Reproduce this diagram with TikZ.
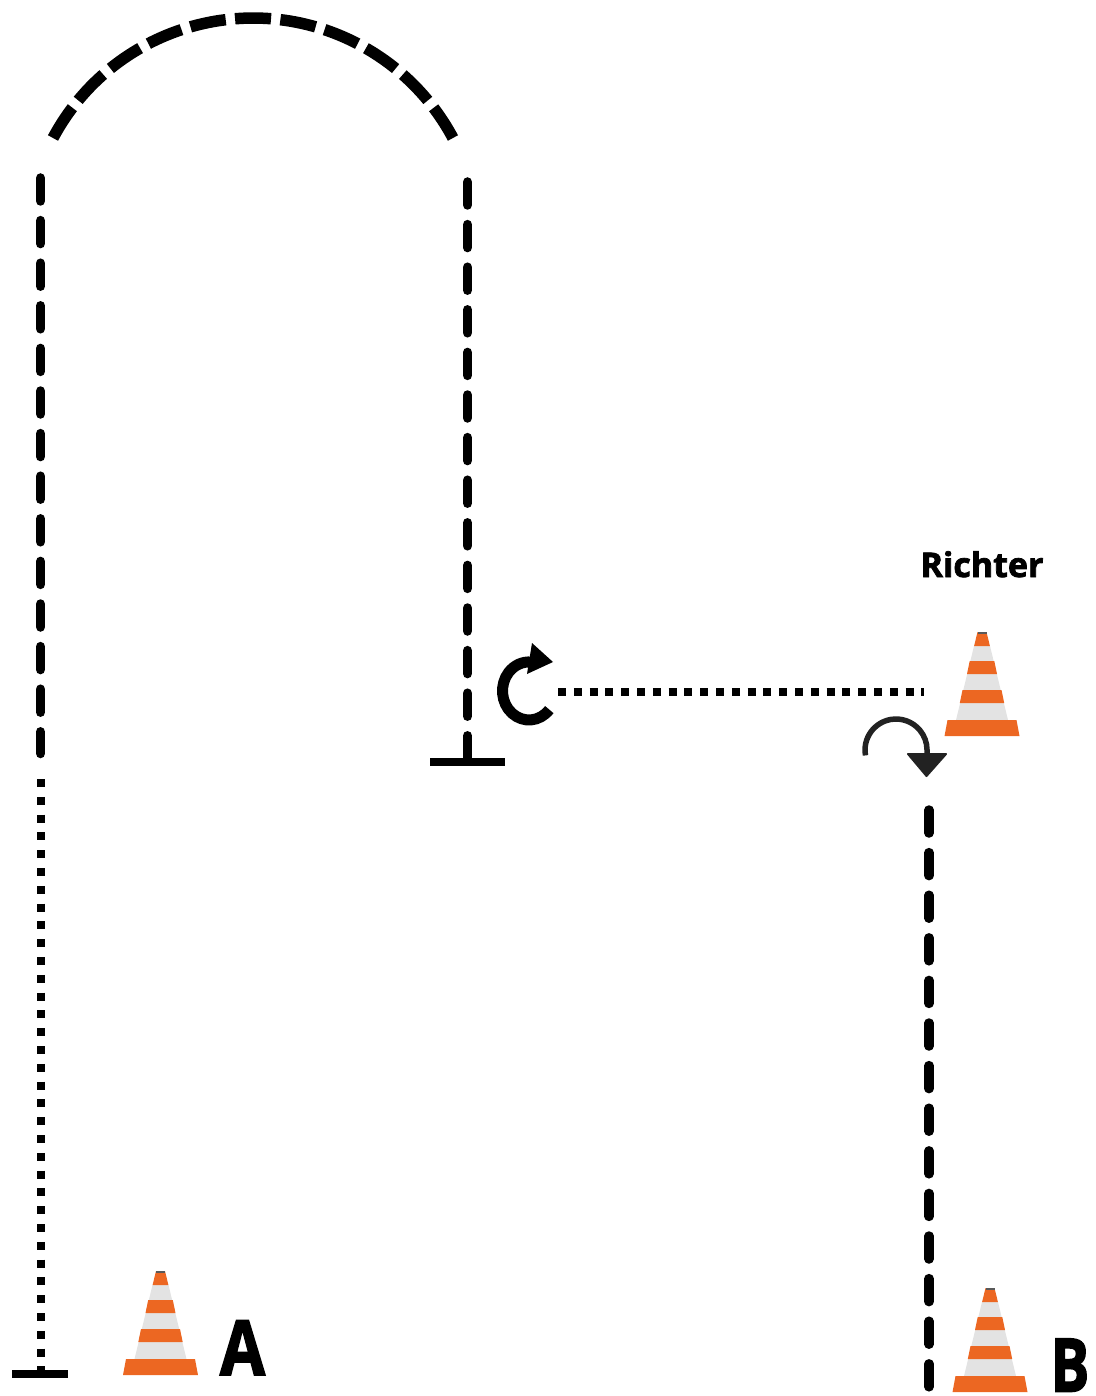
\documentclass[tikz,border=0pt]{standalone}
\usepackage{graphicx}
\usepackage{fontspec}
\setmainfont{Open Sans}[BoldFont={Open Sans Bold},BoldFeatures={FakeBold=2.2}]
\definecolor{coneorange}{HTML}{EC6722}
\definecolor{conegrey}{HTML}{E3E3E3}
\definecolor{arrowdark}{HTML}{222222}
\tikzset{
  x=1pt,y=-1pt,
  dashline/.style={line width=9.5pt,line cap=round,dash pattern=on 23pt off 19.6pt},
  arcline/.style={line width=11.5pt,dash pattern=on 36pt off 9.4pt},
  dotv/.style={line width=8pt,dash pattern=on 8pt off 9.8pt},
  doth/.style={line width=7.5pt,dash pattern=on 8pt off 7.8pt},
  tbar/.style={line width=8.5pt},
  arrowthick/.style={line width=11pt},
  arrowthin/.style={line width=5.5pt,draw=arrowdark},
  textlabel/.style={inner sep=0pt},
  cone/.pic={
    \fill[conegrey] (-8,-90) -- (8,-90) -- (26,-16) -- (-26,-16) -- cycle;
    \fill[coneorange] (-4.5,-104) -- (4.5,-104) -- (7.9,-90) -- (-7.9,-90) -- cycle;
    \fill[coneorange] (-12.3,-75) -- (12.3,-75) -- (15,-62) -- (-15,-62) -- cycle;
    \fill[coneorange] (-19.5,-46) -- (19.5,-46) -- (22.2,-33) -- (-22.2,-33) -- cycle;
    \fill[coneorange] (-34.5,-16) -- (34.5,-16) -- (37.5,0) -- (-37.5,0) -- cycle;
    \fill[black!65] (-4.5,-104) rectangle (4.5,-102.5);
  }
}
\begin{document}
\begin{tikzpicture}
\useasboundingbox (0,0) rectangle (1095,1396);
% dashed uprights
\coordinate (la) at (40.5,178);
\coordinate (lb) at (40.5,753.5);
\coordinate (ra) at (467.5,182);
\coordinate (rb) at (467.5,762);
\coordinate (ba) at (929,810);
\coordinate (bb) at (929,1387);
\draw[dashline] (la) -- (lb);
\draw[dashline] (ra) -- (rb);
\draw[dashline] (ba) -- (bb);
% arc
\coordinate (arcstart) at (53,138);
\draw[arcline] (arcstart) arc[start angle=208.1,end angle=331.9,radius=226.7];
% dotted
\coordinate (da) at (40.5,779);
\coordinate (db) at (40.5,1374);
\draw[dotv] (da) -- (db);
\coordinate (ha) at (558,692);
\coordinate (hb) at (924,692);
\draw[doth] (ha) -- (hb);
% T bars
\coordinate (t1a) at (430,762); \coordinate (t1b) at (505,762);
\coordinate (t2a) at (12,1374); \coordinate (t2b) at (68,1374);
\draw[tbar] (t1a) -- (t1b);
\draw[tbar] (t2a) -- (t2b);
% turn arrows
\coordinate (ca) at (549.3,709.6);
\draw[arrowthick] (ca) arc[start angle=40,end angle=275,x radius=26.5,y radius=29];
\fill (532,643) -- (553,662) -- (527,674) -- cycle;
\coordinate (cb) at (865.5,755.4);
\draw[arrowthin] (cb) arc[start angle=170,end angle=360,radius=31] -- ++(0,6);
\fill[arrowdark,draw=arrowdark,line width=2pt,line join=round] (908,754) -- (946,754) -- (926.5,776) -- cycle;
% cones
\pic at (982,736) {cone};
\pic at (160.5,1375) {cone};
\pic at (990,1392) {cone};
% labels
\node[textlabel,font=\bfseries\fontsize{34}{34}\selectfont,anchor=base] (richter) at (982,577) {Richter};
\node[textlabel,font=\bfseries\fontsize{76}{76}\selectfont,anchor=base] (a) at (242.5,1375) {\scalebox{0.86}[1]{A}};
\node[textlabel,font=\bfseries\fontsize{74}{74}\selectfont,anchor=base] (b) at (1070,1391.5) {\scalebox{0.78}[1]{B}};
\end{tikzpicture}
\end{document}
